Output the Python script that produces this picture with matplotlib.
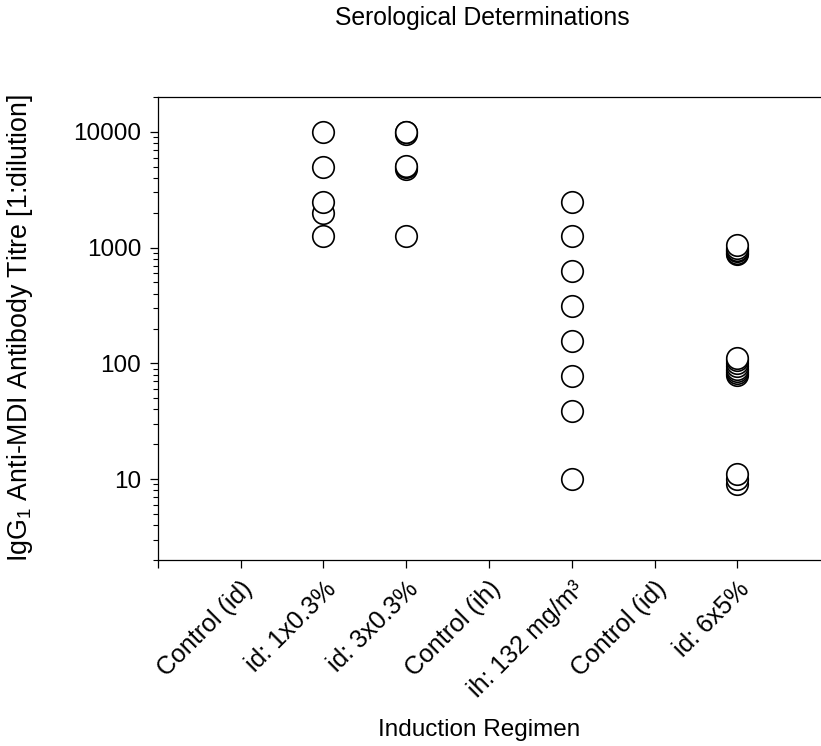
import matplotlib
matplotlib.use("Agg")
import matplotlib.pyplot as plt
import numpy as np
from matplotlib.ticker import LogLocator, NullFormatter, FixedLocator

plt.rcParams['font.family'] = ['Liberation Sans', 'DejaVu Sans']
plt.rcParams['mathtext.default'] = 'regular'

categories = ["Control (id)", "id: 1x0.3%", "id: 3x0.3%", "Control (ih)",
              "ih: 132 mg/m³", "Control (id)", "id: 6x5%"]

# titres per group (empty = controls, no detectable titre)
grp_control_id1 = []
grp_id_1x03 = [10000, 5000, 2500, 2000, 1250]
grp_id_3x03 = [10000, 10000, 9600, 5100, 5000, 4800, 1250]
grp_control_ih = []
grp_ih_132 = [2500, 1250, 625, 312.5, 156, 78, 39, 10]
grp_control_id2 = []
grp_id_6x5 = [1050, 1000, 960, 930, 900, 880,
              112, 106, 100, 95, 90, 86, 83, 80,
              11, 10, 9]

groups = [grp_control_id1, grp_id_1x03, grp_id_3x03, grp_control_ih,
          grp_ih_132, grp_control_id2, grp_id_6x5]

fig = plt.figure(figsize=(8.21, 7.46), dpi=100)
ax = fig.add_axes([0.1924, 0.2493, 0.8064, 0.6207])

for i, vals in enumerate(groups):
    if not vals:
        continue
    for v in sorted(vals):
        ax.plot([i + 1], [v], marker='o', markersize=15.5, markerfacecolor='white',
                markeredgecolor='black', markeredgewidth=1.2, linestyle='none',
                clip_on=False)

ax.set_yscale('log')
ax.set_ylim(2, 20000)
ax.set_xlim(0, 8)
ax.set_yticks([10, 100, 1000, 10000])
ax.set_yticklabels(['10', '100', '1000', '10000'])
ax.yaxis.set_minor_locator(LogLocator(base=10, subs=np.arange(2, 10)))
ax.yaxis.set_minor_formatter(NullFormatter())

ax.set_xticks(np.arange(1, len(categories) + 1))
ax.set_xticklabels(categories, rotation=45, ha='right', rotation_mode='anchor',
                   fontsize=18)
ax.xaxis.set_minor_locator(FixedLocator([0]))

ax.tick_params(axis='both', which='major', direction='out', length=6, width=0.9,
               pad=6)
ax.tick_params(axis='y', which='major', labelsize=17.5)
ax.tick_params(axis='y', which='minor', direction='out', length=3.5, width=0.8)
ax.tick_params(axis='x', which='minor', direction='out', length=6, width=0.9)

ax.spines['right'].set_visible(False)
for s in ['left', 'bottom', 'top']:
    ax.spines[s].set_linewidth(0.9)

ax.set_ylabel('IgG$_1$ Anti-MDI Antibody Titre [1:dilution]', fontsize=19.3)
ax.yaxis.set_label_coords(-0.186, 0.5)
ax.set_xlabel('Induction Regimen', fontsize=17.5)
ax.xaxis.set_label_coords(0.485, -0.344)
fig.text(0.587, 0.976, 'Serological Determinations', fontsize=17.8,
         ha='center', va='center')

fig.savefig('out.png', dpi=100)
